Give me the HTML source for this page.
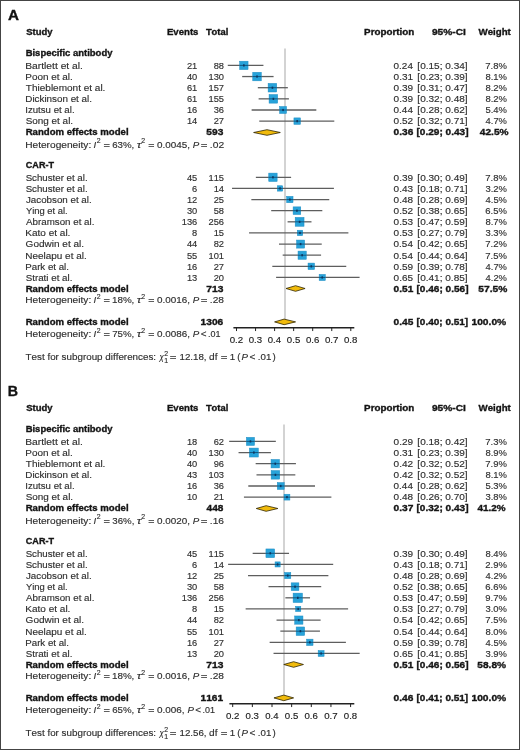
<!DOCTYPE html>
<html><head><meta charset="utf-8"><style>
html,body{margin:0;padding:0;background:#fff;}
body{width:520px;height:750px;overflow:hidden;}
svg{display:block;font-family:"Liberation Sans", sans-serif;font-size:9.7px;font-kerning:none;}
</style></head><body>
<svg width="520" height="750" viewBox="0 0 520 750">
<defs><filter id="soft" x="0" y="0" width="1" height="1" color-interpolation-filters="sRGB"><feGaussianBlur stdDeviation="0.25"/></filter></defs>
<rect x="0" y="0" width="520" height="750" fill="#fff"/>
<g filter="url(#soft)">
<rect x="0" y="0" width="520" height="750" fill="#fff"/>
<text x="7.92" y="19.60" textLength="10.98" lengthAdjust="spacingAndGlyphs" style="font-weight:bold;font-size:14.2px;" fill="#111" stroke="#111" stroke-width="0.35">A</text>
<text x="26.23" y="35.20" textLength="26.32" lengthAdjust="spacingAndGlyphs" style="font-weight:bold;font-size:9.6px;" fill="#141414" stroke="#141414" stroke-width="0.35">Study</text>
<text x="166.96" y="35.20" style="font-weight:bold;font-size:9.6px;" fill="#141414" stroke="#141414" stroke-width="0.35">Events</text>
<text x="205.89" y="35.20" textLength="22.37" lengthAdjust="spacingAndGlyphs" style="font-weight:bold;font-size:9.6px;" fill="#141414" stroke="#141414" stroke-width="0.35">Total</text>
<text x="364.14" y="35.20" textLength="50.17" lengthAdjust="spacingAndGlyphs" style="font-weight:bold;font-size:9.6px;" fill="#141414" stroke="#141414" stroke-width="0.35">Proportion</text>
<text x="431.95" y="35.20" textLength="33.93" lengthAdjust="spacingAndGlyphs" style="font-weight:bold;font-size:9.6px;" fill="#141414" stroke="#141414" stroke-width="0.35">95%-CI</text>
<text x="478.49" y="35.20" textLength="32.33" lengthAdjust="spacingAndGlyphs" style="font-weight:bold;font-size:9.6px;" fill="#141414" stroke="#141414" stroke-width="0.35">Weight</text>
<line x1="285.00" y1="48.60" x2="285.00" y2="321.00" stroke="#d3d3d3" stroke-width="2.0" />
<text x="25.67" y="55.70" textLength="86.78" lengthAdjust="spacingAndGlyphs" style="font-weight:bold;font-size:9.6px;" fill="#141414" stroke="#141414" stroke-width="0.35">Bispecific antibody</text>
<text x="25.26" y="68.80" textLength="57.68" lengthAdjust="spacingAndGlyphs" fill="#2f2f2f" stroke="#2f2f2f" stroke-width="0.15">Bartlett et al.</text>
<text x="186.94" y="68.80" textLength="10.36" lengthAdjust="spacingAndGlyphs" fill="#2f2f2f" stroke="#2f2f2f" stroke-width="0.15">21</text>
<text x="213.64" y="68.80" textLength="10.36" lengthAdjust="spacingAndGlyphs" fill="#2f2f2f" stroke="#2f2f2f" stroke-width="0.15">88</text>
<text x="393.61" y="68.80" textLength="19.28" lengthAdjust="spacingAndGlyphs" fill="#2f2f2f" stroke="#2f2f2f" stroke-width="0.15">0.24</text>
<text x="417.38" y="68.80" textLength="50.23" lengthAdjust="spacingAndGlyphs" fill="#2f2f2f" stroke="#2f2f2f" stroke-width="0.15">[0.15; 0.34]</text>
<text x="485.31" y="68.80" textLength="21.62" lengthAdjust="spacingAndGlyphs" fill="#2f2f2f" stroke="#2f2f2f" stroke-width="0.15">7.8%</text>
<line x1="227.77" y1="65.40" x2="263.43" y2="65.40" stroke="#5e5e5e" stroke-width="1.3" />
<rect x="239.67" y="61.21" width="8.38" height="8.38" fill="#27a3da" stroke="#1e8cc2" stroke-width="0.5"/>
<line x1="239.67" y1="65.40" x2="248.05" y2="65.40" stroke="#0f4468" stroke-width="1.0" stroke-opacity="0.8"/>
<rect x="243.06" y="64.30" width="1.6" height="2.2" fill="#0d3560"/>
<text x="25.28" y="79.78" textLength="47.52" lengthAdjust="spacingAndGlyphs" fill="#2f2f2f" stroke="#2f2f2f" stroke-width="0.15">Poon et al.</text>
<text x="186.94" y="79.78" textLength="10.36" lengthAdjust="spacingAndGlyphs" fill="#2f2f2f" stroke="#2f2f2f" stroke-width="0.15">40</text>
<text x="208.46" y="79.78" textLength="15.54" lengthAdjust="spacingAndGlyphs" fill="#2f2f2f" stroke="#2f2f2f" stroke-width="0.15">130</text>
<text x="393.61" y="79.78" textLength="19.48" lengthAdjust="spacingAndGlyphs" fill="#2f2f2f" stroke="#2f2f2f" stroke-width="0.15">0.31</text>
<text x="417.38" y="79.78" textLength="50.23" lengthAdjust="spacingAndGlyphs" fill="#2f2f2f" stroke="#2f2f2f" stroke-width="0.15">[0.23; 0.39]</text>
<text x="485.39" y="79.78" textLength="21.55" lengthAdjust="spacingAndGlyphs" fill="#2f2f2f" stroke="#2f2f2f" stroke-width="0.15">8.1%</text>
<line x1="242.17" y1="76.55" x2="273.58" y2="76.55" stroke="#5e5e5e" stroke-width="1.3" />
<rect x="252.75" y="72.28" width="8.54" height="8.54" fill="#27a3da" stroke="#1e8cc2" stroke-width="0.5"/>
<line x1="252.75" y1="76.55" x2="261.28" y2="76.55" stroke="#0f4468" stroke-width="1.0" stroke-opacity="0.8"/>
<rect x="256.22" y="75.45" width="1.6" height="2.2" fill="#0d3560"/>
<text x="25.88" y="90.76" textLength="79.54" lengthAdjust="spacingAndGlyphs" fill="#2f2f2f" stroke="#2f2f2f" stroke-width="0.15">Thieblemont et al.</text>
<text x="186.94" y="90.76" textLength="10.36" lengthAdjust="spacingAndGlyphs" fill="#2f2f2f" stroke="#2f2f2f" stroke-width="0.15">61</text>
<text x="208.46" y="90.76" textLength="15.54" lengthAdjust="spacingAndGlyphs" fill="#2f2f2f" stroke="#2f2f2f" stroke-width="0.15">157</text>
<text x="393.61" y="90.76" textLength="19.46" lengthAdjust="spacingAndGlyphs" fill="#2f2f2f" stroke="#2f2f2f" stroke-width="0.15">0.39</text>
<text x="417.38" y="90.76" textLength="50.23" lengthAdjust="spacingAndGlyphs" fill="#2f2f2f" stroke="#2f2f2f" stroke-width="0.15">[0.31; 0.47]</text>
<text x="485.39" y="90.76" textLength="21.55" lengthAdjust="spacingAndGlyphs" fill="#2f2f2f" stroke="#2f2f2f" stroke-width="0.15">8.2%</text>
<line x1="257.81" y1="87.70" x2="287.84" y2="87.70" stroke="#5e5e5e" stroke-width="1.3" />
<rect x="268.12" y="83.40" width="8.59" height="8.59" fill="#27a3da" stroke="#1e8cc2" stroke-width="0.5"/>
<line x1="268.12" y1="87.70" x2="276.71" y2="87.70" stroke="#0f4468" stroke-width="1.0" stroke-opacity="0.8"/>
<rect x="271.62" y="86.60" width="1.6" height="2.2" fill="#0d3560"/>
<text x="25.29" y="101.74" textLength="66.71" lengthAdjust="spacingAndGlyphs" fill="#2f2f2f" stroke="#2f2f2f" stroke-width="0.15">Dickinson et al.</text>
<text x="186.94" y="101.74" textLength="10.36" lengthAdjust="spacingAndGlyphs" fill="#2f2f2f" stroke="#2f2f2f" stroke-width="0.15">61</text>
<text x="208.46" y="101.74" textLength="15.54" lengthAdjust="spacingAndGlyphs" fill="#2f2f2f" stroke="#2f2f2f" stroke-width="0.15">155</text>
<text x="393.61" y="101.74" textLength="19.46" lengthAdjust="spacingAndGlyphs" fill="#2f2f2f" stroke="#2f2f2f" stroke-width="0.15">0.39</text>
<text x="417.38" y="101.74" textLength="50.23" lengthAdjust="spacingAndGlyphs" fill="#2f2f2f" stroke="#2f2f2f" stroke-width="0.15">[0.32; 0.48]</text>
<text x="485.39" y="101.74" textLength="21.55" lengthAdjust="spacingAndGlyphs" fill="#2f2f2f" stroke="#2f2f2f" stroke-width="0.15">8.2%</text>
<line x1="258.62" y1="98.85" x2="288.91" y2="98.85" stroke="#5e5e5e" stroke-width="1.3" />
<rect x="269.08" y="94.55" width="8.59" height="8.59" fill="#27a3da" stroke="#1e8cc2" stroke-width="0.5"/>
<line x1="269.08" y1="98.85" x2="277.67" y2="98.85" stroke="#0f4468" stroke-width="1.0" stroke-opacity="0.8"/>
<rect x="272.57" y="97.75" width="1.6" height="2.2" fill="#0d3560"/>
<text x="25.21" y="112.72" textLength="49.37" lengthAdjust="spacingAndGlyphs" fill="#2f2f2f" stroke="#2f2f2f" stroke-width="0.15">Izutsu et al.</text>
<text x="186.94" y="112.72" textLength="10.36" lengthAdjust="spacingAndGlyphs" fill="#2f2f2f" stroke="#2f2f2f" stroke-width="0.15">16</text>
<text x="213.64" y="112.72" textLength="10.36" lengthAdjust="spacingAndGlyphs" fill="#2f2f2f" stroke="#2f2f2f" stroke-width="0.15">36</text>
<text x="393.61" y="112.72" textLength="19.28" lengthAdjust="spacingAndGlyphs" fill="#2f2f2f" stroke="#2f2f2f" stroke-width="0.15">0.44</text>
<text x="417.38" y="112.72" textLength="50.23" lengthAdjust="spacingAndGlyphs" fill="#2f2f2f" stroke="#2f2f2f" stroke-width="0.15">[0.28; 0.62]</text>
<text x="485.42" y="112.72" textLength="21.51" lengthAdjust="spacingAndGlyphs" fill="#2f2f2f" stroke="#2f2f2f" stroke-width="0.15">5.4%</text>
<line x1="251.62" y1="110.00" x2="316.32" y2="110.00" stroke="#5e5e5e" stroke-width="1.3" />
<rect x="279.58" y="106.51" width="6.97" height="6.97" fill="#27a3da" stroke="#1e8cc2" stroke-width="0.5"/>
<line x1="279.58" y1="110.00" x2="286.55" y2="110.00" stroke="#0f4468" stroke-width="1.0" stroke-opacity="0.8"/>
<rect x="282.27" y="108.90" width="1.6" height="2.2" fill="#0d3560"/>
<text x="25.65" y="123.70" textLength="47.46" lengthAdjust="spacingAndGlyphs" fill="#2f2f2f" stroke="#2f2f2f" stroke-width="0.15">Song et al.</text>
<text x="186.94" y="123.70" textLength="10.36" lengthAdjust="spacingAndGlyphs" fill="#2f2f2f" stroke="#2f2f2f" stroke-width="0.15">14</text>
<text x="213.64" y="123.70" textLength="10.36" lengthAdjust="spacingAndGlyphs" fill="#2f2f2f" stroke="#2f2f2f" stroke-width="0.15">27</text>
<text x="393.61" y="123.70" textLength="19.50" lengthAdjust="spacingAndGlyphs" fill="#2f2f2f" stroke="#2f2f2f" stroke-width="0.15">0.52</text>
<text x="417.38" y="123.70" textLength="50.23" lengthAdjust="spacingAndGlyphs" fill="#2f2f2f" stroke="#2f2f2f" stroke-width="0.15">[0.32; 0.71]</text>
<text x="485.59" y="123.70" textLength="21.35" lengthAdjust="spacingAndGlyphs" fill="#2f2f2f" stroke="#2f2f2f" stroke-width="0.15">4.7%</text>
<line x1="259.26" y1="121.15" x2="334.29" y2="121.15" stroke="#5e5e5e" stroke-width="1.3" />
<rect x="293.93" y="117.90" width="6.50" height="6.50" fill="#27a3da" stroke="#1e8cc2" stroke-width="0.5"/>
<line x1="293.93" y1="121.15" x2="300.43" y2="121.15" stroke="#0f4468" stroke-width="1.0" stroke-opacity="0.8"/>
<rect x="296.38" y="120.05" width="1.6" height="2.2" fill="#0d3560"/>
<text x="25.66" y="135.30" style="font-weight:bold;font-size:9.6px;" fill="#141414" stroke="#141414" stroke-width="0.35">Random effects model</text>
<text x="206.39" y="135.30" textLength="16.98" lengthAdjust="spacingAndGlyphs" style="font-weight:bold;font-size:9.6px;" fill="#141414" stroke="#141414" stroke-width="0.35">593</text>
<text x="393.60" y="135.30" textLength="19.77" lengthAdjust="spacingAndGlyphs" style="font-weight:bold;font-size:9.6px;" fill="#141414" stroke="#141414" stroke-width="0.35">0.36</text>
<text x="416.53" y="135.30" textLength="52.03" lengthAdjust="spacingAndGlyphs" style="font-weight:bold;font-size:9.6px;" fill="#141414" stroke="#141414" stroke-width="0.35">[0.29; 0.43]</text>
<text x="479.85" y="135.30" textLength="28.72" lengthAdjust="spacingAndGlyphs" style="font-weight:bold;font-size:9.6px;" fill="#141414" stroke="#141414" stroke-width="0.35">42.5%</text>
<polygon points="253.64,132.50 266.98,129.70 280.31,132.50 266.98,135.30" fill="#f1bb0c" stroke="#2e2400" stroke-width="0.8"/>
<text x="25.17" y="147.60" textLength="66.06" lengthAdjust="spacingAndGlyphs" fill="#2f2f2f" stroke="#2f2f2f" stroke-width="0.15">Heterogeneity:</text>
<text x="93.62" y="147.60" style="font-style:italic;" fill="#2f2f2f" stroke="#2f2f2f" stroke-width="0.15">I</text>
<text x="96.75" y="143.30" style="font-size:6.9px;" fill="#2f2f2f" stroke="#2f2f2f" stroke-width="0.15">2</text>
<text x="103.56" y="147.60" textLength="6.49" lengthAdjust="spacingAndGlyphs" fill="#2f2f2f" stroke="#2f2f2f" stroke-width="0.15">=</text>
<text x="112.21" y="147.60" fill="#2f2f2f" stroke="#2f2f2f" stroke-width="0.15">63%,</text>
<text x="136.75" y="147.60" textLength="4.62" lengthAdjust="spacingAndGlyphs" style="font-style:italic;" fill="#2f2f2f" stroke="#2f2f2f" stroke-width="0.15">τ</text>
<text x="141.15" y="143.30" style="font-size:6.9px;" fill="#2f2f2f" stroke="#2f2f2f" stroke-width="0.15">2</text>
<text x="148.28" y="147.60" textLength="6.25" lengthAdjust="spacingAndGlyphs" fill="#2f2f2f" stroke="#2f2f2f" stroke-width="0.15">=</text>
<text x="157.01" y="147.60" textLength="32.97" lengthAdjust="spacingAndGlyphs" fill="#2f2f2f" stroke="#2f2f2f" stroke-width="0.15">0.0045,</text>
<text x="192.80" y="147.60" style="font-style:italic;" fill="#2f2f2f" stroke="#2f2f2f" stroke-width="0.15">P</text>
<text x="200.84" y="147.60" textLength="6.73" lengthAdjust="spacingAndGlyphs" fill="#2f2f2f" stroke="#2f2f2f" stroke-width="0.15">=</text>
<text x="209.86" y="147.60" textLength="14.25" lengthAdjust="spacingAndGlyphs" fill="#2f2f2f" stroke="#2f2f2f" stroke-width="0.15">.02</text>
<text x="25.83" y="167.70" textLength="28.17" lengthAdjust="spacingAndGlyphs" style="font-weight:bold;font-size:9.6px;" fill="#141414" stroke="#141414" stroke-width="0.35">CAR-T</text>
<text x="25.66" y="180.70" fill="#2f2f2f" stroke="#2f2f2f" stroke-width="0.15">Schuster et al.</text>
<text x="186.94" y="180.70" textLength="10.36" lengthAdjust="spacingAndGlyphs" fill="#2f2f2f" stroke="#2f2f2f" stroke-width="0.15">45</text>
<text x="208.46" y="180.70" textLength="15.54" lengthAdjust="spacingAndGlyphs" fill="#2f2f2f" stroke="#2f2f2f" stroke-width="0.15">115</text>
<text x="393.61" y="180.70" textLength="19.46" lengthAdjust="spacingAndGlyphs" fill="#2f2f2f" stroke="#2f2f2f" stroke-width="0.15">0.39</text>
<text x="417.38" y="180.70" textLength="50.23" lengthAdjust="spacingAndGlyphs" fill="#2f2f2f" stroke="#2f2f2f" stroke-width="0.15">[0.30; 0.49]</text>
<text x="485.31" y="180.70" textLength="21.62" lengthAdjust="spacingAndGlyphs" fill="#2f2f2f" stroke="#2f2f2f" stroke-width="0.15">7.8%</text>
<line x1="255.86" y1="177.30" x2="291.12" y2="177.30" stroke="#5e5e5e" stroke-width="1.3" />
<rect x="268.75" y="173.11" width="8.38" height="8.38" fill="#27a3da" stroke="#1e8cc2" stroke-width="0.5"/>
<line x1="268.75" y1="177.30" x2="277.13" y2="177.30" stroke="#0f4468" stroke-width="1.0" stroke-opacity="0.8"/>
<rect x="272.14" y="176.20" width="1.6" height="2.2" fill="#0d3560"/>
<text x="25.66" y="191.82" fill="#2f2f2f" stroke="#2f2f2f" stroke-width="0.15">Schuster et al.</text>
<text x="192.12" y="191.82" textLength="5.18" lengthAdjust="spacingAndGlyphs" fill="#2f2f2f" stroke="#2f2f2f" stroke-width="0.15">6</text>
<text x="213.64" y="191.82" textLength="10.36" lengthAdjust="spacingAndGlyphs" fill="#2f2f2f" stroke="#2f2f2f" stroke-width="0.15">14</text>
<text x="393.61" y="191.82" textLength="19.43" lengthAdjust="spacingAndGlyphs" fill="#2f2f2f" stroke="#2f2f2f" stroke-width="0.15">0.43</text>
<text x="417.38" y="191.82" textLength="50.23" lengthAdjust="spacingAndGlyphs" fill="#2f2f2f" stroke="#2f2f2f" stroke-width="0.15">[0.18; 0.71]</text>
<text x="485.44" y="191.82" textLength="21.50" lengthAdjust="spacingAndGlyphs" fill="#2f2f2f" stroke="#2f2f2f" stroke-width="0.15">3.2%</text>
<line x1="232.04" y1="188.43" x2="333.92" y2="188.43" stroke="#5e5e5e" stroke-width="1.3" />
<rect x="277.36" y="185.75" width="5.37" height="5.37" fill="#27a3da" stroke="#1e8cc2" stroke-width="0.5"/>
<line x1="277.36" y1="188.43" x2="282.73" y2="188.43" stroke="#0f4468" stroke-width="1.0" stroke-opacity="0.8"/>
<rect x="279.24" y="187.33" width="1.6" height="2.2" fill="#0d3560"/>
<text x="25.95" y="202.94" textLength="65.75" lengthAdjust="spacingAndGlyphs" fill="#2f2f2f" stroke="#2f2f2f" stroke-width="0.15">Jacobson et al.</text>
<text x="186.94" y="202.94" textLength="10.36" lengthAdjust="spacingAndGlyphs" fill="#2f2f2f" stroke="#2f2f2f" stroke-width="0.15">12</text>
<text x="213.64" y="202.94" textLength="10.36" lengthAdjust="spacingAndGlyphs" fill="#2f2f2f" stroke="#2f2f2f" stroke-width="0.15">25</text>
<text x="393.61" y="202.94" textLength="19.42" lengthAdjust="spacingAndGlyphs" fill="#2f2f2f" stroke="#2f2f2f" stroke-width="0.15">0.48</text>
<text x="417.38" y="202.94" textLength="50.23" lengthAdjust="spacingAndGlyphs" fill="#2f2f2f" stroke="#2f2f2f" stroke-width="0.15">[0.28; 0.69]</text>
<text x="485.59" y="202.94" textLength="21.35" lengthAdjust="spacingAndGlyphs" fill="#2f2f2f" stroke="#2f2f2f" stroke-width="0.15">4.5%</text>
<line x1="251.35" y1="199.56" x2="329.26" y2="199.56" stroke="#5e5e5e" stroke-width="1.3" />
<rect x="286.66" y="196.38" width="6.36" height="6.36" fill="#27a3da" stroke="#1e8cc2" stroke-width="0.5"/>
<line x1="286.66" y1="199.56" x2="293.02" y2="199.56" stroke="#0f4468" stroke-width="1.0" stroke-opacity="0.8"/>
<rect x="289.04" y="198.46" width="1.6" height="2.2" fill="#0d3560"/>
<text x="25.89" y="214.06" textLength="41.87" lengthAdjust="spacingAndGlyphs" fill="#2f2f2f" stroke="#2f2f2f" stroke-width="0.15">Ying et al.</text>
<text x="186.94" y="214.06" textLength="10.36" lengthAdjust="spacingAndGlyphs" fill="#2f2f2f" stroke="#2f2f2f" stroke-width="0.15">30</text>
<text x="213.64" y="214.06" textLength="10.36" lengthAdjust="spacingAndGlyphs" fill="#2f2f2f" stroke="#2f2f2f" stroke-width="0.15">58</text>
<text x="393.61" y="214.06" textLength="19.50" lengthAdjust="spacingAndGlyphs" fill="#2f2f2f" stroke="#2f2f2f" stroke-width="0.15">0.52</text>
<text x="417.38" y="214.06" textLength="50.23" lengthAdjust="spacingAndGlyphs" fill="#2f2f2f" stroke="#2f2f2f" stroke-width="0.15">[0.38; 0.65]</text>
<text x="485.32" y="214.06" textLength="21.62" lengthAdjust="spacingAndGlyphs" fill="#2f2f2f" stroke="#2f2f2f" stroke-width="0.15">6.5%</text>
<line x1="271.20" y1="210.69" x2="322.32" y2="210.69" stroke="#5e5e5e" stroke-width="1.3" />
<rect x="293.11" y="206.87" width="7.65" height="7.65" fill="#27a3da" stroke="#1e8cc2" stroke-width="0.5"/>
<line x1="293.11" y1="210.69" x2="300.76" y2="210.69" stroke="#0f4468" stroke-width="1.0" stroke-opacity="0.8"/>
<rect x="296.13" y="209.59" width="1.6" height="2.2" fill="#0d3560"/>
<text x="26.08" y="225.18" textLength="68.31" lengthAdjust="spacingAndGlyphs" fill="#2f2f2f" stroke="#2f2f2f" stroke-width="0.15">Abramson et al.</text>
<text x="181.76" y="225.18" textLength="15.54" lengthAdjust="spacingAndGlyphs" fill="#2f2f2f" stroke="#2f2f2f" stroke-width="0.15">136</text>
<text x="208.46" y="225.18" textLength="15.54" lengthAdjust="spacingAndGlyphs" fill="#2f2f2f" stroke="#2f2f2f" stroke-width="0.15">256</text>
<text x="393.61" y="225.18" textLength="19.43" lengthAdjust="spacingAndGlyphs" fill="#2f2f2f" stroke="#2f2f2f" stroke-width="0.15">0.53</text>
<text x="417.38" y="225.18" textLength="50.23" lengthAdjust="spacingAndGlyphs" fill="#2f2f2f" stroke="#2f2f2f" stroke-width="0.15">[0.47; 0.59]</text>
<text x="485.39" y="225.18" textLength="21.55" lengthAdjust="spacingAndGlyphs" fill="#2f2f2f" stroke="#2f2f2f" stroke-width="0.15">8.7%</text>
<line x1="287.58" y1="221.82" x2="311.49" y2="221.82" stroke="#5e5e5e" stroke-width="1.3" />
<rect x="295.18" y="217.40" width="8.85" height="8.85" fill="#27a3da" stroke="#1e8cc2" stroke-width="0.5"/>
<line x1="295.18" y1="221.82" x2="304.03" y2="221.82" stroke="#0f4468" stroke-width="1.0" stroke-opacity="0.8"/>
<rect x="298.80" y="220.72" width="1.6" height="2.2" fill="#0d3560"/>
<text x="25.28" y="236.30" textLength="45.14" lengthAdjust="spacingAndGlyphs" fill="#2f2f2f" stroke="#2f2f2f" stroke-width="0.15">Kato et al.</text>
<text x="192.12" y="236.30" textLength="5.18" lengthAdjust="spacingAndGlyphs" fill="#2f2f2f" stroke="#2f2f2f" stroke-width="0.15">8</text>
<text x="213.64" y="236.30" textLength="10.36" lengthAdjust="spacingAndGlyphs" fill="#2f2f2f" stroke="#2f2f2f" stroke-width="0.15">15</text>
<text x="393.61" y="236.30" textLength="19.43" lengthAdjust="spacingAndGlyphs" fill="#2f2f2f" stroke="#2f2f2f" stroke-width="0.15">0.53</text>
<text x="417.38" y="236.30" textLength="50.23" lengthAdjust="spacingAndGlyphs" fill="#2f2f2f" stroke="#2f2f2f" stroke-width="0.15">[0.27; 0.79]</text>
<text x="485.44" y="236.30" textLength="21.50" lengthAdjust="spacingAndGlyphs" fill="#2f2f2f" stroke="#2f2f2f" stroke-width="0.15">3.3%</text>
<line x1="249.05" y1="232.95" x2="348.39" y2="232.95" stroke="#5e5e5e" stroke-width="1.3" />
<rect x="297.28" y="230.23" width="5.45" height="5.45" fill="#27a3da" stroke="#1e8cc2" stroke-width="0.5"/>
<line x1="297.28" y1="232.95" x2="302.72" y2="232.95" stroke="#0f4468" stroke-width="1.0" stroke-opacity="0.8"/>
<rect x="299.20" y="231.85" width="1.6" height="2.2" fill="#0d3560"/>
<text x="25.60" y="247.42" textLength="58.42" lengthAdjust="spacingAndGlyphs" fill="#2f2f2f" stroke="#2f2f2f" stroke-width="0.15">Godwin et al.</text>
<text x="186.94" y="247.42" textLength="10.36" lengthAdjust="spacingAndGlyphs" fill="#2f2f2f" stroke="#2f2f2f" stroke-width="0.15">44</text>
<text x="213.64" y="247.42" textLength="10.36" lengthAdjust="spacingAndGlyphs" fill="#2f2f2f" stroke="#2f2f2f" stroke-width="0.15">82</text>
<text x="393.61" y="247.42" textLength="19.28" lengthAdjust="spacingAndGlyphs" fill="#2f2f2f" stroke="#2f2f2f" stroke-width="0.15">0.54</text>
<text x="417.38" y="247.42" textLength="50.23" lengthAdjust="spacingAndGlyphs" fill="#2f2f2f" stroke="#2f2f2f" stroke-width="0.15">[0.42; 0.65]</text>
<text x="485.31" y="247.42" textLength="21.62" lengthAdjust="spacingAndGlyphs" fill="#2f2f2f" stroke="#2f2f2f" stroke-width="0.15">7.2%</text>
<line x1="278.98" y1="244.08" x2="321.74" y2="244.08" stroke="#5e5e5e" stroke-width="1.3" />
<rect x="296.59" y="240.06" width="8.05" height="8.05" fill="#27a3da" stroke="#1e8cc2" stroke-width="0.5"/>
<line x1="296.59" y1="244.08" x2="304.64" y2="244.08" stroke="#0f4468" stroke-width="1.0" stroke-opacity="0.8"/>
<rect x="299.82" y="242.98" width="1.6" height="2.2" fill="#0d3560"/>
<text x="25.28" y="258.54" textLength="61.43" lengthAdjust="spacingAndGlyphs" fill="#2f2f2f" stroke="#2f2f2f" stroke-width="0.15">Neelapu et al.</text>
<text x="186.94" y="258.54" textLength="10.36" lengthAdjust="spacingAndGlyphs" fill="#2f2f2f" stroke="#2f2f2f" stroke-width="0.15">55</text>
<text x="208.46" y="258.54" textLength="15.54" lengthAdjust="spacingAndGlyphs" fill="#2f2f2f" stroke="#2f2f2f" stroke-width="0.15">101</text>
<text x="393.61" y="258.54" textLength="19.28" lengthAdjust="spacingAndGlyphs" fill="#2f2f2f" stroke="#2f2f2f" stroke-width="0.15">0.54</text>
<text x="417.38" y="258.54" textLength="50.23" lengthAdjust="spacingAndGlyphs" fill="#2f2f2f" stroke="#2f2f2f" stroke-width="0.15">[0.44; 0.64]</text>
<text x="485.31" y="258.54" textLength="21.62" lengthAdjust="spacingAndGlyphs" fill="#2f2f2f" stroke="#2f2f2f" stroke-width="0.15">7.5%</text>
<line x1="282.68" y1="255.21" x2="321.08" y2="255.21" stroke="#5e5e5e" stroke-width="1.3" />
<rect x="298.03" y="251.10" width="8.22" height="8.22" fill="#27a3da" stroke="#1e8cc2" stroke-width="0.5"/>
<line x1="298.03" y1="255.21" x2="306.25" y2="255.21" stroke="#0f4468" stroke-width="1.0" stroke-opacity="0.8"/>
<rect x="301.34" y="254.11" width="1.6" height="2.2" fill="#0d3560"/>
<text x="25.31" y="269.66" fill="#2f2f2f" stroke="#2f2f2f" stroke-width="0.15">Park et al.</text>
<text x="186.94" y="269.66" textLength="10.36" lengthAdjust="spacingAndGlyphs" fill="#2f2f2f" stroke="#2f2f2f" stroke-width="0.15">16</text>
<text x="213.64" y="269.66" textLength="10.36" lengthAdjust="spacingAndGlyphs" fill="#2f2f2f" stroke="#2f2f2f" stroke-width="0.15">27</text>
<text x="393.61" y="269.66" textLength="19.46" lengthAdjust="spacingAndGlyphs" fill="#2f2f2f" stroke="#2f2f2f" stroke-width="0.15">0.59</text>
<text x="417.38" y="269.66" textLength="50.23" lengthAdjust="spacingAndGlyphs" fill="#2f2f2f" stroke="#2f2f2f" stroke-width="0.15">[0.39; 0.78]</text>
<text x="485.59" y="269.66" textLength="21.35" lengthAdjust="spacingAndGlyphs" fill="#2f2f2f" stroke="#2f2f2f" stroke-width="0.15">4.7%</text>
<line x1="272.31" y1="266.34" x2="346.25" y2="266.34" stroke="#5e5e5e" stroke-width="1.3" />
<rect x="308.04" y="263.09" width="6.50" height="6.50" fill="#27a3da" stroke="#1e8cc2" stroke-width="0.5"/>
<line x1="308.04" y1="266.34" x2="314.54" y2="266.34" stroke="#0f4468" stroke-width="1.0" stroke-opacity="0.8"/>
<rect x="310.49" y="265.24" width="1.6" height="2.2" fill="#0d3560"/>
<text x="25.66" y="280.78" textLength="46.74" lengthAdjust="spacingAndGlyphs" fill="#2f2f2f" stroke="#2f2f2f" stroke-width="0.15">Strati et al.</text>
<text x="186.94" y="280.78" textLength="10.36" lengthAdjust="spacingAndGlyphs" fill="#2f2f2f" stroke="#2f2f2f" stroke-width="0.15">13</text>
<text x="213.64" y="280.78" textLength="10.36" lengthAdjust="spacingAndGlyphs" fill="#2f2f2f" stroke="#2f2f2f" stroke-width="0.15">20</text>
<text x="393.61" y="280.78" textLength="19.41" lengthAdjust="spacingAndGlyphs" fill="#2f2f2f" stroke="#2f2f2f" stroke-width="0.15">0.65</text>
<text x="417.38" y="280.78" textLength="50.23" lengthAdjust="spacingAndGlyphs" fill="#2f2f2f" stroke="#2f2f2f" stroke-width="0.15">[0.41; 0.85]</text>
<text x="485.59" y="280.78" textLength="21.35" lengthAdjust="spacingAndGlyphs" fill="#2f2f2f" stroke="#2f2f2f" stroke-width="0.15">4.2%</text>
<line x1="276.09" y1="277.47" x2="359.58" y2="277.47" stroke="#5e5e5e" stroke-width="1.3" />
<rect x="319.15" y="274.40" width="6.15" height="6.15" fill="#27a3da" stroke="#1e8cc2" stroke-width="0.5"/>
<line x1="319.15" y1="277.47" x2="325.30" y2="277.47" stroke="#0f4468" stroke-width="1.0" stroke-opacity="0.8"/>
<rect x="321.43" y="276.37" width="1.6" height="2.2" fill="#0d3560"/>
<text x="25.66" y="291.50" style="font-weight:bold;font-size:9.6px;" fill="#141414" stroke="#141414" stroke-width="0.35">Random effects model</text>
<text x="206.26" y="291.50" textLength="17.11" lengthAdjust="spacingAndGlyphs" style="font-weight:bold;font-size:9.6px;" fill="#141414" stroke="#141414" stroke-width="0.35">713</text>
<text x="393.60" y="291.50" textLength="19.68" lengthAdjust="spacingAndGlyphs" style="font-weight:bold;font-size:9.6px;" fill="#141414" stroke="#141414" stroke-width="0.35">0.51</text>
<text x="416.53" y="291.50" textLength="52.03" lengthAdjust="spacingAndGlyphs" style="font-weight:bold;font-size:9.6px;" fill="#141414" stroke="#141414" stroke-width="0.35">[0.46; 0.56]</text>
<text x="478.29" y="291.50" textLength="28.98" lengthAdjust="spacingAndGlyphs" style="font-weight:bold;font-size:9.6px;" fill="#141414" stroke="#141414" stroke-width="0.35">57.5%</text>
<polygon points="286.03,288.50 295.56,285.70 305.08,288.50 295.56,291.30" fill="#f1bb0c" stroke="#2e2400" stroke-width="0.8"/>
<text x="25.17" y="303.30" textLength="66.06" lengthAdjust="spacingAndGlyphs" fill="#2f2f2f" stroke="#2f2f2f" stroke-width="0.15">Heterogeneity:</text>
<text x="93.62" y="303.30" style="font-style:italic;" fill="#2f2f2f" stroke="#2f2f2f" stroke-width="0.15">I</text>
<text x="96.75" y="299.00" style="font-size:6.9px;" fill="#2f2f2f" stroke="#2f2f2f" stroke-width="0.15">2</text>
<text x="103.56" y="303.30" textLength="6.49" lengthAdjust="spacingAndGlyphs" fill="#2f2f2f" stroke="#2f2f2f" stroke-width="0.15">=</text>
<text x="111.95" y="303.30" textLength="22.43" lengthAdjust="spacingAndGlyphs" fill="#2f2f2f" stroke="#2f2f2f" stroke-width="0.15">18%,</text>
<text x="136.75" y="303.30" textLength="4.62" lengthAdjust="spacingAndGlyphs" style="font-style:italic;" fill="#2f2f2f" stroke="#2f2f2f" stroke-width="0.15">τ</text>
<text x="141.15" y="299.00" style="font-size:6.9px;" fill="#2f2f2f" stroke="#2f2f2f" stroke-width="0.15">2</text>
<text x="148.28" y="303.30" textLength="6.25" lengthAdjust="spacingAndGlyphs" fill="#2f2f2f" stroke="#2f2f2f" stroke-width="0.15">=</text>
<text x="157.01" y="303.30" textLength="32.97" lengthAdjust="spacingAndGlyphs" fill="#2f2f2f" stroke="#2f2f2f" stroke-width="0.15">0.0016,</text>
<text x="192.80" y="303.30" style="font-style:italic;" fill="#2f2f2f" stroke="#2f2f2f" stroke-width="0.15">P</text>
<text x="200.84" y="303.30" textLength="6.73" lengthAdjust="spacingAndGlyphs" fill="#2f2f2f" stroke="#2f2f2f" stroke-width="0.15">=</text>
<text x="209.87" y="303.30" textLength="14.17" lengthAdjust="spacingAndGlyphs" fill="#2f2f2f" stroke="#2f2f2f" stroke-width="0.15">.28</text>
<text x="25.66" y="324.80" style="font-weight:bold;font-size:9.6px;" fill="#141414" stroke="#141414" stroke-width="0.35">Random effects model</text>
<text x="200.56" y="324.80" textLength="22.71" lengthAdjust="spacingAndGlyphs" style="font-weight:bold;font-size:9.6px;" fill="#141414" stroke="#141414" stroke-width="0.35">1306</text>
<text x="393.60" y="324.80" textLength="19.78" lengthAdjust="spacingAndGlyphs" style="font-weight:bold;font-size:9.6px;" fill="#141414" stroke="#141414" stroke-width="0.35">0.45</text>
<text x="416.54" y="324.80" textLength="51.62" lengthAdjust="spacingAndGlyphs" style="font-weight:bold;font-size:9.6px;" fill="#141414" stroke="#141414" stroke-width="0.35">[0.40; 0.51]</text>
<text x="471.45" y="324.80" textLength="34.82" lengthAdjust="spacingAndGlyphs" style="font-weight:bold;font-size:9.6px;" fill="#141414" stroke="#141414" stroke-width="0.35">100.0%</text>
<polygon points="274.60,321.90 284.12,319.10 295.56,321.90 284.12,324.70" fill="#f1bb0c" stroke="#2e2400" stroke-width="0.8"/>
<text x="25.17" y="336.90" textLength="66.06" lengthAdjust="spacingAndGlyphs" fill="#2f2f2f" stroke="#2f2f2f" stroke-width="0.15">Heterogeneity:</text>
<text x="93.62" y="336.90" style="font-style:italic;" fill="#2f2f2f" stroke="#2f2f2f" stroke-width="0.15">I</text>
<text x="96.75" y="332.60" style="font-size:6.9px;" fill="#2f2f2f" stroke="#2f2f2f" stroke-width="0.15">2</text>
<text x="103.56" y="336.90" textLength="6.49" lengthAdjust="spacingAndGlyphs" fill="#2f2f2f" stroke="#2f2f2f" stroke-width="0.15">=</text>
<text x="112.20" y="336.90" fill="#2f2f2f" stroke="#2f2f2f" stroke-width="0.15">75%,</text>
<text x="136.75" y="336.90" textLength="4.62" lengthAdjust="spacingAndGlyphs" style="font-style:italic;" fill="#2f2f2f" stroke="#2f2f2f" stroke-width="0.15">τ</text>
<text x="141.15" y="332.60" style="font-size:6.9px;" fill="#2f2f2f" stroke="#2f2f2f" stroke-width="0.15">2</text>
<text x="148.28" y="336.90" textLength="6.25" lengthAdjust="spacingAndGlyphs" fill="#2f2f2f" stroke="#2f2f2f" stroke-width="0.15">=</text>
<text x="157.01" y="336.90" textLength="32.97" lengthAdjust="spacingAndGlyphs" fill="#2f2f2f" stroke="#2f2f2f" stroke-width="0.15">0.0086,</text>
<text x="192.80" y="336.90" style="font-style:italic;" fill="#2f2f2f" stroke="#2f2f2f" stroke-width="0.15">P</text>
<text x="200.71" y="336.90" textLength="5.77" lengthAdjust="spacingAndGlyphs" fill="#2f2f2f" stroke="#2f2f2f" stroke-width="0.15">&lt;</text>
<text x="207.98" y="336.90" textLength="12.46" lengthAdjust="spacingAndGlyphs" fill="#2f2f2f" stroke="#2f2f2f" stroke-width="0.15">.01</text>
<line x1="233.40" y1="327.75" x2="354.30" y2="327.75" stroke="#222" stroke-width="1.5" />
<line x1="236.50" y1="327.75" x2="236.50" y2="331.05" stroke="#222" stroke-width="1.0" />
<text x="229.72" y="343.20" textLength="13.47" lengthAdjust="spacingAndGlyphs" style="font-size:9.3px;" fill="#222" stroke="#222" stroke-width="0.15">0.2</text>
<line x1="255.55" y1="327.75" x2="255.55" y2="331.05" stroke="#222" stroke-width="1.0" />
<text x="248.77" y="343.20" textLength="13.40" lengthAdjust="spacingAndGlyphs" style="font-size:9.3px;" fill="#222" stroke="#222" stroke-width="0.15">0.3</text>
<line x1="274.60" y1="327.75" x2="274.60" y2="331.05" stroke="#222" stroke-width="1.0" />
<text x="267.83" y="343.20" textLength="13.25" lengthAdjust="spacingAndGlyphs" style="font-size:9.3px;" fill="#222" stroke="#222" stroke-width="0.15">0.4</text>
<line x1="293.65" y1="327.75" x2="293.65" y2="331.05" stroke="#222" stroke-width="1.0" />
<text x="286.87" y="343.20" textLength="13.38" lengthAdjust="spacingAndGlyphs" style="font-size:9.3px;" fill="#222" stroke="#222" stroke-width="0.15">0.5</text>
<line x1="312.70" y1="327.75" x2="312.70" y2="331.05" stroke="#222" stroke-width="1.0" />
<text x="305.92" y="343.20" textLength="13.40" lengthAdjust="spacingAndGlyphs" style="font-size:9.3px;" fill="#222" stroke="#222" stroke-width="0.15">0.6</text>
<line x1="331.75" y1="327.75" x2="331.75" y2="331.05" stroke="#222" stroke-width="1.0" />
<text x="324.97" y="343.20" textLength="13.47" lengthAdjust="spacingAndGlyphs" style="font-size:9.3px;" fill="#222" stroke="#222" stroke-width="0.15">0.7</text>
<line x1="350.80" y1="327.75" x2="350.80" y2="331.05" stroke="#222" stroke-width="1.0" />
<text x="344.02" y="343.20" textLength="13.40" lengthAdjust="spacingAndGlyphs" style="font-size:9.3px;" fill="#222" stroke="#222" stroke-width="0.15">0.8</text>
<text x="25.58" y="360.40" textLength="130.52" lengthAdjust="spacingAndGlyphs" fill="#2f2f2f" stroke="#2f2f2f" stroke-width="0.15">Test for subgroup differences:</text>
<text x="159.56" y="360.40" textLength="4.23" lengthAdjust="spacingAndGlyphs" style="font-style:italic;" fill="#2f2f2f" stroke="#2f2f2f" stroke-width="0.15">χ</text>
<text x="164.15" y="356.30" style="font-size:6.9px;" fill="#2f2f2f" stroke="#2f2f2f" stroke-width="0.15">2</text>
<text x="164.37" y="362.50" style="font-size:6.9px;" fill="#2f2f2f" stroke="#2f2f2f" stroke-width="0.15">1</text>
<text x="169.84" y="360.40" textLength="6.73" lengthAdjust="spacingAndGlyphs" fill="#2f2f2f" stroke="#2f2f2f" stroke-width="0.15">=</text>
<text x="179.46" y="360.40" textLength="27.12" lengthAdjust="spacingAndGlyphs" fill="#2f2f2f" stroke="#2f2f2f" stroke-width="0.15">12.18,</text>
<text x="209.08" y="360.40" textLength="8.41" lengthAdjust="spacingAndGlyphs" fill="#2f2f2f" stroke="#2f2f2f" stroke-width="0.15">df</text>
<text x="220.74" y="360.40" textLength="6.73" lengthAdjust="spacingAndGlyphs" fill="#2f2f2f" stroke="#2f2f2f" stroke-width="0.15">=</text>
<text x="229.86" y="360.40" fill="#2f2f2f" stroke="#2f2f2f" stroke-width="0.15">1</text>
<text x="237.30" y="360.40" fill="#2f2f2f" stroke="#2f2f2f" stroke-width="0.15">(</text>
<text x="241.40" y="360.40" style="font-style:italic;" fill="#2f2f2f" stroke="#2f2f2f" stroke-width="0.15">P</text>
<text x="249.50" y="360.40" textLength="5.89" lengthAdjust="spacingAndGlyphs" fill="#2f2f2f" stroke="#2f2f2f" stroke-width="0.15">&lt;</text>
<text x="257.82" y="360.40" fill="#2f2f2f" stroke="#2f2f2f" stroke-width="0.15">.01</text>
<text x="272.44" y="360.40" fill="#2f2f2f" stroke="#2f2f2f" stroke-width="0.15">)</text>
<text x="7.70" y="395.60" style="font-weight:bold;font-size:14.2px;" fill="#111" stroke="#111" stroke-width="0.35">B</text>
<text x="26.23" y="411.20" textLength="26.32" lengthAdjust="spacingAndGlyphs" style="font-weight:bold;font-size:9.6px;" fill="#141414" stroke="#141414" stroke-width="0.35">Study</text>
<text x="166.96" y="411.20" style="font-weight:bold;font-size:9.6px;" fill="#141414" stroke="#141414" stroke-width="0.35">Events</text>
<text x="205.89" y="411.20" textLength="22.37" lengthAdjust="spacingAndGlyphs" style="font-weight:bold;font-size:9.6px;" fill="#141414" stroke="#141414" stroke-width="0.35">Total</text>
<text x="364.14" y="411.20" textLength="50.17" lengthAdjust="spacingAndGlyphs" style="font-weight:bold;font-size:9.6px;" fill="#141414" stroke="#141414" stroke-width="0.35">Proportion</text>
<text x="431.95" y="411.20" textLength="33.93" lengthAdjust="spacingAndGlyphs" style="font-weight:bold;font-size:9.6px;" fill="#141414" stroke="#141414" stroke-width="0.35">95%-CI</text>
<text x="478.49" y="411.20" textLength="32.33" lengthAdjust="spacingAndGlyphs" style="font-weight:bold;font-size:9.6px;" fill="#141414" stroke="#141414" stroke-width="0.35">Weight</text>
<line x1="284.00" y1="424.60" x2="284.00" y2="697.00" stroke="#d3d3d3" stroke-width="2.0" />
<text x="25.67" y="431.70" textLength="86.78" lengthAdjust="spacingAndGlyphs" style="font-weight:bold;font-size:9.6px;" fill="#141414" stroke="#141414" stroke-width="0.35">Bispecific antibody</text>
<text x="25.26" y="444.80" textLength="57.68" lengthAdjust="spacingAndGlyphs" fill="#2f2f2f" stroke="#2f2f2f" stroke-width="0.15">Bartlett et al.</text>
<text x="186.94" y="444.80" textLength="10.36" lengthAdjust="spacingAndGlyphs" fill="#2f2f2f" stroke="#2f2f2f" stroke-width="0.15">18</text>
<text x="213.64" y="444.80" textLength="10.36" lengthAdjust="spacingAndGlyphs" fill="#2f2f2f" stroke="#2f2f2f" stroke-width="0.15">62</text>
<text x="393.61" y="444.80" textLength="19.46" lengthAdjust="spacingAndGlyphs" fill="#2f2f2f" stroke="#2f2f2f" stroke-width="0.15">0.29</text>
<text x="417.38" y="444.80" textLength="50.23" lengthAdjust="spacingAndGlyphs" fill="#2f2f2f" stroke="#2f2f2f" stroke-width="0.15">[0.18; 0.42]</text>
<text x="485.31" y="444.80" textLength="21.62" lengthAdjust="spacingAndGlyphs" fill="#2f2f2f" stroke="#2f2f2f" stroke-width="0.15">7.3%</text>
<line x1="229.16" y1="441.40" x2="275.83" y2="441.40" stroke="#5e5e5e" stroke-width="1.3" />
<rect x="246.40" y="437.35" width="8.11" height="8.11" fill="#27a3da" stroke="#1e8cc2" stroke-width="0.5"/>
<line x1="246.40" y1="441.40" x2="254.50" y2="441.40" stroke="#0f4468" stroke-width="1.0" stroke-opacity="0.8"/>
<rect x="249.65" y="440.30" width="1.6" height="2.2" fill="#0d3560"/>
<text x="25.28" y="455.78" textLength="47.52" lengthAdjust="spacingAndGlyphs" fill="#2f2f2f" stroke="#2f2f2f" stroke-width="0.15">Poon et al.</text>
<text x="186.94" y="455.78" textLength="10.36" lengthAdjust="spacingAndGlyphs" fill="#2f2f2f" stroke="#2f2f2f" stroke-width="0.15">40</text>
<text x="208.46" y="455.78" textLength="15.54" lengthAdjust="spacingAndGlyphs" fill="#2f2f2f" stroke="#2f2f2f" stroke-width="0.15">130</text>
<text x="393.61" y="455.78" textLength="19.48" lengthAdjust="spacingAndGlyphs" fill="#2f2f2f" stroke="#2f2f2f" stroke-width="0.15">0.31</text>
<text x="417.38" y="455.78" textLength="50.23" lengthAdjust="spacingAndGlyphs" fill="#2f2f2f" stroke="#2f2f2f" stroke-width="0.15">[0.23; 0.39]</text>
<text x="485.39" y="455.78" textLength="21.55" lengthAdjust="spacingAndGlyphs" fill="#2f2f2f" stroke="#2f2f2f" stroke-width="0.15">8.9%</text>
<line x1="238.55" y1="452.55" x2="270.94" y2="452.55" stroke="#5e5e5e" stroke-width="1.3" />
<rect x="249.39" y="448.08" width="8.95" height="8.95" fill="#27a3da" stroke="#1e8cc2" stroke-width="0.5"/>
<line x1="249.39" y1="452.55" x2="258.34" y2="452.55" stroke="#0f4468" stroke-width="1.0" stroke-opacity="0.8"/>
<rect x="253.06" y="451.45" width="1.6" height="2.2" fill="#0d3560"/>
<text x="25.88" y="466.76" textLength="79.54" lengthAdjust="spacingAndGlyphs" fill="#2f2f2f" stroke="#2f2f2f" stroke-width="0.15">Thieblemont et al.</text>
<text x="186.94" y="466.76" textLength="10.36" lengthAdjust="spacingAndGlyphs" fill="#2f2f2f" stroke="#2f2f2f" stroke-width="0.15">40</text>
<text x="213.64" y="466.76" textLength="10.36" lengthAdjust="spacingAndGlyphs" fill="#2f2f2f" stroke="#2f2f2f" stroke-width="0.15">96</text>
<text x="393.61" y="466.76" textLength="19.50" lengthAdjust="spacingAndGlyphs" fill="#2f2f2f" stroke="#2f2f2f" stroke-width="0.15">0.42</text>
<text x="417.38" y="466.76" textLength="50.23" lengthAdjust="spacingAndGlyphs" fill="#2f2f2f" stroke="#2f2f2f" stroke-width="0.15">[0.32; 0.52]</text>
<text x="485.31" y="466.76" textLength="21.62" lengthAdjust="spacingAndGlyphs" fill="#2f2f2f" stroke="#2f2f2f" stroke-width="0.15">7.9%</text>
<line x1="255.66" y1="463.70" x2="295.93" y2="463.70" stroke="#5e5e5e" stroke-width="1.3" />
<rect x="271.06" y="459.48" width="8.43" height="8.43" fill="#27a3da" stroke="#1e8cc2" stroke-width="0.5"/>
<line x1="271.06" y1="463.70" x2="279.49" y2="463.70" stroke="#0f4468" stroke-width="1.0" stroke-opacity="0.8"/>
<rect x="274.47" y="462.60" width="1.6" height="2.2" fill="#0d3560"/>
<text x="25.29" y="477.74" textLength="66.71" lengthAdjust="spacingAndGlyphs" fill="#2f2f2f" stroke="#2f2f2f" stroke-width="0.15">Dickinson et al.</text>
<text x="186.94" y="477.74" textLength="10.36" lengthAdjust="spacingAndGlyphs" fill="#2f2f2f" stroke="#2f2f2f" stroke-width="0.15">43</text>
<text x="208.46" y="477.74" textLength="15.54" lengthAdjust="spacingAndGlyphs" fill="#2f2f2f" stroke="#2f2f2f" stroke-width="0.15">103</text>
<text x="393.61" y="477.74" textLength="19.50" lengthAdjust="spacingAndGlyphs" fill="#2f2f2f" stroke="#2f2f2f" stroke-width="0.15">0.42</text>
<text x="417.38" y="477.74" textLength="50.23" lengthAdjust="spacingAndGlyphs" fill="#2f2f2f" stroke="#2f2f2f" stroke-width="0.15">[0.32; 0.52]</text>
<text x="485.39" y="477.74" textLength="21.55" lengthAdjust="spacingAndGlyphs" fill="#2f2f2f" stroke="#2f2f2f" stroke-width="0.15">8.1%</text>
<line x1="256.49" y1="474.85" x2="295.34" y2="474.85" stroke="#5e5e5e" stroke-width="1.3" />
<rect x="271.16" y="470.58" width="8.54" height="8.54" fill="#27a3da" stroke="#1e8cc2" stroke-width="0.5"/>
<line x1="271.16" y1="474.85" x2="279.70" y2="474.85" stroke="#0f4468" stroke-width="1.0" stroke-opacity="0.8"/>
<rect x="274.63" y="473.75" width="1.6" height="2.2" fill="#0d3560"/>
<text x="25.21" y="488.72" textLength="49.37" lengthAdjust="spacingAndGlyphs" fill="#2f2f2f" stroke="#2f2f2f" stroke-width="0.15">Izutsu et al.</text>
<text x="186.94" y="488.72" textLength="10.36" lengthAdjust="spacingAndGlyphs" fill="#2f2f2f" stroke="#2f2f2f" stroke-width="0.15">16</text>
<text x="213.64" y="488.72" textLength="10.36" lengthAdjust="spacingAndGlyphs" fill="#2f2f2f" stroke="#2f2f2f" stroke-width="0.15">36</text>
<text x="393.61" y="488.72" textLength="19.28" lengthAdjust="spacingAndGlyphs" fill="#2f2f2f" stroke="#2f2f2f" stroke-width="0.15">0.44</text>
<text x="417.38" y="488.72" textLength="50.23" lengthAdjust="spacingAndGlyphs" fill="#2f2f2f" stroke="#2f2f2f" stroke-width="0.15">[0.28; 0.62]</text>
<text x="485.42" y="488.72" textLength="21.51" lengthAdjust="spacingAndGlyphs" fill="#2f2f2f" stroke="#2f2f2f" stroke-width="0.15">5.3%</text>
<line x1="248.29" y1="486.00" x2="315.04" y2="486.00" stroke="#5e5e5e" stroke-width="1.3" />
<rect x="277.28" y="482.55" width="6.91" height="6.91" fill="#27a3da" stroke="#1e8cc2" stroke-width="0.5"/>
<line x1="277.28" y1="486.00" x2="284.19" y2="486.00" stroke="#0f4468" stroke-width="1.0" stroke-opacity="0.8"/>
<rect x="279.93" y="484.90" width="1.6" height="2.2" fill="#0d3560"/>
<text x="25.65" y="499.70" textLength="47.46" lengthAdjust="spacingAndGlyphs" fill="#2f2f2f" stroke="#2f2f2f" stroke-width="0.15">Song et al.</text>
<text x="186.94" y="499.70" textLength="10.36" lengthAdjust="spacingAndGlyphs" fill="#2f2f2f" stroke="#2f2f2f" stroke-width="0.15">10</text>
<text x="213.64" y="499.70" textLength="10.36" lengthAdjust="spacingAndGlyphs" fill="#2f2f2f" stroke="#2f2f2f" stroke-width="0.15">21</text>
<text x="393.61" y="499.70" textLength="19.42" lengthAdjust="spacingAndGlyphs" fill="#2f2f2f" stroke="#2f2f2f" stroke-width="0.15">0.48</text>
<text x="417.38" y="499.70" textLength="50.23" lengthAdjust="spacingAndGlyphs" fill="#2f2f2f" stroke="#2f2f2f" stroke-width="0.15">[0.26; 0.70]</text>
<text x="485.44" y="499.70" textLength="21.50" lengthAdjust="spacingAndGlyphs" fill="#2f2f2f" stroke="#2f2f2f" stroke-width="0.15">3.8%</text>
<line x1="243.93" y1="497.15" x2="331.38" y2="497.15" stroke="#5e5e5e" stroke-width="1.3" />
<rect x="284.05" y="494.23" width="5.85" height="5.85" fill="#27a3da" stroke="#1e8cc2" stroke-width="0.5"/>
<line x1="284.05" y1="497.15" x2="289.90" y2="497.15" stroke="#0f4468" stroke-width="1.0" stroke-opacity="0.8"/>
<rect x="286.17" y="496.05" width="1.6" height="2.2" fill="#0d3560"/>
<text x="25.66" y="511.30" style="font-weight:bold;font-size:9.6px;" fill="#141414" stroke="#141414" stroke-width="0.35">Random effects model</text>
<text x="206.55" y="511.30" textLength="16.76" lengthAdjust="spacingAndGlyphs" style="font-weight:bold;font-size:9.6px;" fill="#141414" stroke="#141414" stroke-width="0.35">448</text>
<text x="393.60" y="511.30" textLength="19.85" lengthAdjust="spacingAndGlyphs" style="font-weight:bold;font-size:9.6px;" fill="#141414" stroke="#141414" stroke-width="0.35">0.37</text>
<text x="416.53" y="511.30" textLength="52.03" lengthAdjust="spacingAndGlyphs" style="font-weight:bold;font-size:9.6px;" fill="#141414" stroke="#141414" stroke-width="0.35">[0.32; 0.43]</text>
<text x="477.55" y="511.30" textLength="28.11" lengthAdjust="spacingAndGlyphs" style="font-weight:bold;font-size:9.6px;" fill="#141414" stroke="#141414" stroke-width="0.35">41.2%</text>
<polygon points="256.28,508.50 266.10,505.70 277.89,508.50 266.10,511.30" fill="#f1bb0c" stroke="#2e2400" stroke-width="0.8"/>
<text x="25.17" y="523.60" textLength="66.06" lengthAdjust="spacingAndGlyphs" fill="#2f2f2f" stroke="#2f2f2f" stroke-width="0.15">Heterogeneity:</text>
<text x="93.62" y="523.60" style="font-style:italic;" fill="#2f2f2f" stroke="#2f2f2f" stroke-width="0.15">I</text>
<text x="96.75" y="519.30" style="font-size:6.9px;" fill="#2f2f2f" stroke="#2f2f2f" stroke-width="0.15">2</text>
<text x="103.56" y="523.60" textLength="6.49" lengthAdjust="spacingAndGlyphs" fill="#2f2f2f" stroke="#2f2f2f" stroke-width="0.15">=</text>
<text x="112.33" y="523.60" fill="#2f2f2f" stroke="#2f2f2f" stroke-width="0.15">36%,</text>
<text x="136.75" y="523.60" textLength="4.62" lengthAdjust="spacingAndGlyphs" style="font-style:italic;" fill="#2f2f2f" stroke="#2f2f2f" stroke-width="0.15">τ</text>
<text x="141.15" y="519.30" style="font-size:6.9px;" fill="#2f2f2f" stroke="#2f2f2f" stroke-width="0.15">2</text>
<text x="148.28" y="523.60" textLength="6.25" lengthAdjust="spacingAndGlyphs" fill="#2f2f2f" stroke="#2f2f2f" stroke-width="0.15">=</text>
<text x="157.01" y="523.60" textLength="32.97" lengthAdjust="spacingAndGlyphs" fill="#2f2f2f" stroke="#2f2f2f" stroke-width="0.15">0.0020,</text>
<text x="192.80" y="523.60" style="font-style:italic;" fill="#2f2f2f" stroke="#2f2f2f" stroke-width="0.15">P</text>
<text x="200.84" y="523.60" textLength="6.73" lengthAdjust="spacingAndGlyphs" fill="#2f2f2f" stroke="#2f2f2f" stroke-width="0.15">=</text>
<text x="209.87" y="523.60" textLength="14.18" lengthAdjust="spacingAndGlyphs" fill="#2f2f2f" stroke="#2f2f2f" stroke-width="0.15">.16</text>
<text x="25.83" y="543.70" textLength="28.17" lengthAdjust="spacingAndGlyphs" style="font-weight:bold;font-size:9.6px;" fill="#141414" stroke="#141414" stroke-width="0.35">CAR-T</text>
<text x="25.66" y="556.70" fill="#2f2f2f" stroke="#2f2f2f" stroke-width="0.15">Schuster et al.</text>
<text x="186.94" y="556.70" textLength="10.36" lengthAdjust="spacingAndGlyphs" fill="#2f2f2f" stroke="#2f2f2f" stroke-width="0.15">45</text>
<text x="208.46" y="556.70" textLength="15.54" lengthAdjust="spacingAndGlyphs" fill="#2f2f2f" stroke="#2f2f2f" stroke-width="0.15">115</text>
<text x="393.61" y="556.70" textLength="19.46" lengthAdjust="spacingAndGlyphs" fill="#2f2f2f" stroke="#2f2f2f" stroke-width="0.15">0.39</text>
<text x="417.38" y="556.70" textLength="50.23" lengthAdjust="spacingAndGlyphs" fill="#2f2f2f" stroke="#2f2f2f" stroke-width="0.15">[0.30; 0.49]</text>
<text x="485.39" y="556.70" textLength="21.55" lengthAdjust="spacingAndGlyphs" fill="#2f2f2f" stroke="#2f2f2f" stroke-width="0.15">8.4%</text>
<line x1="252.67" y1="553.30" x2="289.04" y2="553.30" stroke="#5e5e5e" stroke-width="1.3" />
<rect x="265.94" y="548.95" width="8.69" height="8.69" fill="#27a3da" stroke="#1e8cc2" stroke-width="0.5"/>
<line x1="265.94" y1="553.30" x2="274.64" y2="553.30" stroke="#0f4468" stroke-width="1.0" stroke-opacity="0.8"/>
<rect x="269.49" y="552.20" width="1.6" height="2.2" fill="#0d3560"/>
<text x="25.66" y="567.82" fill="#2f2f2f" stroke="#2f2f2f" stroke-width="0.15">Schuster et al.</text>
<text x="192.12" y="567.82" textLength="5.18" lengthAdjust="spacingAndGlyphs" fill="#2f2f2f" stroke="#2f2f2f" stroke-width="0.15">6</text>
<text x="213.64" y="567.82" textLength="10.36" lengthAdjust="spacingAndGlyphs" fill="#2f2f2f" stroke="#2f2f2f" stroke-width="0.15">14</text>
<text x="393.61" y="567.82" textLength="19.43" lengthAdjust="spacingAndGlyphs" fill="#2f2f2f" stroke="#2f2f2f" stroke-width="0.15">0.43</text>
<text x="417.38" y="567.82" textLength="50.23" lengthAdjust="spacingAndGlyphs" fill="#2f2f2f" stroke="#2f2f2f" stroke-width="0.15">[0.18; 0.71]</text>
<text x="485.32" y="567.82" textLength="21.61" lengthAdjust="spacingAndGlyphs" fill="#2f2f2f" stroke="#2f2f2f" stroke-width="0.15">2.9%</text>
<line x1="228.10" y1="564.43" x2="333.19" y2="564.43" stroke="#5e5e5e" stroke-width="1.3" />
<rect x="275.06" y="561.88" width="5.11" height="5.11" fill="#27a3da" stroke="#1e8cc2" stroke-width="0.5"/>
<line x1="275.06" y1="564.43" x2="280.17" y2="564.43" stroke="#0f4468" stroke-width="1.0" stroke-opacity="0.8"/>
<rect x="276.81" y="563.33" width="1.6" height="2.2" fill="#0d3560"/>
<text x="25.95" y="578.94" textLength="65.75" lengthAdjust="spacingAndGlyphs" fill="#2f2f2f" stroke="#2f2f2f" stroke-width="0.15">Jacobson et al.</text>
<text x="186.94" y="578.94" textLength="10.36" lengthAdjust="spacingAndGlyphs" fill="#2f2f2f" stroke="#2f2f2f" stroke-width="0.15">12</text>
<text x="213.64" y="578.94" textLength="10.36" lengthAdjust="spacingAndGlyphs" fill="#2f2f2f" stroke="#2f2f2f" stroke-width="0.15">25</text>
<text x="393.61" y="578.94" textLength="19.42" lengthAdjust="spacingAndGlyphs" fill="#2f2f2f" stroke="#2f2f2f" stroke-width="0.15">0.48</text>
<text x="417.38" y="578.94" textLength="50.23" lengthAdjust="spacingAndGlyphs" fill="#2f2f2f" stroke="#2f2f2f" stroke-width="0.15">[0.28; 0.69]</text>
<text x="485.59" y="578.94" textLength="21.35" lengthAdjust="spacingAndGlyphs" fill="#2f2f2f" stroke="#2f2f2f" stroke-width="0.15">4.2%</text>
<line x1="248.02" y1="575.56" x2="328.38" y2="575.56" stroke="#5e5e5e" stroke-width="1.3" />
<rect x="284.65" y="572.49" width="6.15" height="6.15" fill="#27a3da" stroke="#1e8cc2" stroke-width="0.5"/>
<line x1="284.65" y1="575.56" x2="290.79" y2="575.56" stroke="#0f4468" stroke-width="1.0" stroke-opacity="0.8"/>
<rect x="286.92" y="574.46" width="1.6" height="2.2" fill="#0d3560"/>
<text x="25.89" y="590.06" textLength="41.87" lengthAdjust="spacingAndGlyphs" fill="#2f2f2f" stroke="#2f2f2f" stroke-width="0.15">Ying et al.</text>
<text x="186.94" y="590.06" textLength="10.36" lengthAdjust="spacingAndGlyphs" fill="#2f2f2f" stroke="#2f2f2f" stroke-width="0.15">30</text>
<text x="213.64" y="590.06" textLength="10.36" lengthAdjust="spacingAndGlyphs" fill="#2f2f2f" stroke="#2f2f2f" stroke-width="0.15">58</text>
<text x="393.61" y="590.06" textLength="19.50" lengthAdjust="spacingAndGlyphs" fill="#2f2f2f" stroke="#2f2f2f" stroke-width="0.15">0.52</text>
<text x="417.38" y="590.06" textLength="50.23" lengthAdjust="spacingAndGlyphs" fill="#2f2f2f" stroke="#2f2f2f" stroke-width="0.15">[0.38; 0.65]</text>
<text x="485.32" y="590.06" textLength="21.62" lengthAdjust="spacingAndGlyphs" fill="#2f2f2f" stroke="#2f2f2f" stroke-width="0.15">6.6%</text>
<line x1="268.50" y1="586.69" x2="321.22" y2="586.69" stroke="#5e5e5e" stroke-width="1.3" />
<rect x="291.18" y="582.84" width="7.71" height="7.71" fill="#27a3da" stroke="#1e8cc2" stroke-width="0.5"/>
<line x1="291.18" y1="586.69" x2="298.89" y2="586.69" stroke="#0f4468" stroke-width="1.0" stroke-opacity="0.8"/>
<rect x="294.24" y="585.59" width="1.6" height="2.2" fill="#0d3560"/>
<text x="26.08" y="601.18" textLength="68.31" lengthAdjust="spacingAndGlyphs" fill="#2f2f2f" stroke="#2f2f2f" stroke-width="0.15">Abramson et al.</text>
<text x="181.76" y="601.18" textLength="15.54" lengthAdjust="spacingAndGlyphs" fill="#2f2f2f" stroke="#2f2f2f" stroke-width="0.15">136</text>
<text x="208.46" y="601.18" textLength="15.54" lengthAdjust="spacingAndGlyphs" fill="#2f2f2f" stroke="#2f2f2f" stroke-width="0.15">256</text>
<text x="393.61" y="601.18" textLength="19.43" lengthAdjust="spacingAndGlyphs" fill="#2f2f2f" stroke="#2f2f2f" stroke-width="0.15">0.53</text>
<text x="417.38" y="601.18" textLength="50.23" lengthAdjust="spacingAndGlyphs" fill="#2f2f2f" stroke="#2f2f2f" stroke-width="0.15">[0.47; 0.59]</text>
<text x="485.36" y="601.18" textLength="21.58" lengthAdjust="spacingAndGlyphs" fill="#2f2f2f" stroke="#2f2f2f" stroke-width="0.15">9.7%</text>
<line x1="285.38" y1="597.82" x2="310.05" y2="597.82" stroke="#5e5e5e" stroke-width="1.3" />
<rect x="293.12" y="593.15" width="9.34" height="9.34" fill="#27a3da" stroke="#1e8cc2" stroke-width="0.5"/>
<line x1="293.12" y1="597.82" x2="302.46" y2="597.82" stroke="#0f4468" stroke-width="1.0" stroke-opacity="0.8"/>
<rect x="296.99" y="596.72" width="1.6" height="2.2" fill="#0d3560"/>
<text x="25.28" y="612.30" textLength="45.14" lengthAdjust="spacingAndGlyphs" fill="#2f2f2f" stroke="#2f2f2f" stroke-width="0.15">Kato et al.</text>
<text x="192.12" y="612.30" textLength="5.18" lengthAdjust="spacingAndGlyphs" fill="#2f2f2f" stroke="#2f2f2f" stroke-width="0.15">8</text>
<text x="213.64" y="612.30" textLength="10.36" lengthAdjust="spacingAndGlyphs" fill="#2f2f2f" stroke="#2f2f2f" stroke-width="0.15">15</text>
<text x="393.61" y="612.30" textLength="19.43" lengthAdjust="spacingAndGlyphs" fill="#2f2f2f" stroke="#2f2f2f" stroke-width="0.15">0.53</text>
<text x="417.38" y="612.30" textLength="50.23" lengthAdjust="spacingAndGlyphs" fill="#2f2f2f" stroke="#2f2f2f" stroke-width="0.15">[0.27; 0.79]</text>
<text x="485.44" y="612.30" textLength="21.50" lengthAdjust="spacingAndGlyphs" fill="#2f2f2f" stroke="#2f2f2f" stroke-width="0.15">3.0%</text>
<line x1="245.64" y1="608.95" x2="348.11" y2="608.95" stroke="#5e5e5e" stroke-width="1.3" />
<rect x="295.60" y="606.35" width="5.20" height="5.20" fill="#27a3da" stroke="#1e8cc2" stroke-width="0.5"/>
<line x1="295.60" y1="608.95" x2="300.80" y2="608.95" stroke="#0f4468" stroke-width="1.0" stroke-opacity="0.8"/>
<rect x="297.40" y="607.85" width="1.6" height="2.2" fill="#0d3560"/>
<text x="25.60" y="623.42" textLength="58.42" lengthAdjust="spacingAndGlyphs" fill="#2f2f2f" stroke="#2f2f2f" stroke-width="0.15">Godwin et al.</text>
<text x="186.94" y="623.42" textLength="10.36" lengthAdjust="spacingAndGlyphs" fill="#2f2f2f" stroke="#2f2f2f" stroke-width="0.15">44</text>
<text x="213.64" y="623.42" textLength="10.36" lengthAdjust="spacingAndGlyphs" fill="#2f2f2f" stroke="#2f2f2f" stroke-width="0.15">82</text>
<text x="393.61" y="623.42" textLength="19.28" lengthAdjust="spacingAndGlyphs" fill="#2f2f2f" stroke="#2f2f2f" stroke-width="0.15">0.54</text>
<text x="417.38" y="623.42" textLength="50.23" lengthAdjust="spacingAndGlyphs" fill="#2f2f2f" stroke="#2f2f2f" stroke-width="0.15">[0.42; 0.65]</text>
<text x="485.31" y="623.42" textLength="21.62" lengthAdjust="spacingAndGlyphs" fill="#2f2f2f" stroke="#2f2f2f" stroke-width="0.15">7.5%</text>
<line x1="276.52" y1="620.08" x2="320.63" y2="620.08" stroke="#5e5e5e" stroke-width="1.3" />
<rect x="294.73" y="615.97" width="8.22" height="8.22" fill="#27a3da" stroke="#1e8cc2" stroke-width="0.5"/>
<line x1="294.73" y1="620.08" x2="302.95" y2="620.08" stroke="#0f4468" stroke-width="1.0" stroke-opacity="0.8"/>
<rect x="298.04" y="618.98" width="1.6" height="2.2" fill="#0d3560"/>
<text x="25.28" y="634.54" textLength="61.43" lengthAdjust="spacingAndGlyphs" fill="#2f2f2f" stroke="#2f2f2f" stroke-width="0.15">Neelapu et al.</text>
<text x="186.94" y="634.54" textLength="10.36" lengthAdjust="spacingAndGlyphs" fill="#2f2f2f" stroke="#2f2f2f" stroke-width="0.15">55</text>
<text x="208.46" y="634.54" textLength="15.54" lengthAdjust="spacingAndGlyphs" fill="#2f2f2f" stroke="#2f2f2f" stroke-width="0.15">101</text>
<text x="393.61" y="634.54" textLength="19.28" lengthAdjust="spacingAndGlyphs" fill="#2f2f2f" stroke="#2f2f2f" stroke-width="0.15">0.54</text>
<text x="417.38" y="634.54" textLength="50.23" lengthAdjust="spacingAndGlyphs" fill="#2f2f2f" stroke="#2f2f2f" stroke-width="0.15">[0.44; 0.64]</text>
<text x="485.39" y="634.54" textLength="21.55" lengthAdjust="spacingAndGlyphs" fill="#2f2f2f" stroke="#2f2f2f" stroke-width="0.15">8.0%</text>
<line x1="280.34" y1="631.21" x2="319.95" y2="631.21" stroke="#5e5e5e" stroke-width="1.3" />
<rect x="296.16" y="626.97" width="8.49" height="8.49" fill="#27a3da" stroke="#1e8cc2" stroke-width="0.5"/>
<line x1="296.16" y1="631.21" x2="304.65" y2="631.21" stroke="#0f4468" stroke-width="1.0" stroke-opacity="0.8"/>
<rect x="299.60" y="630.11" width="1.6" height="2.2" fill="#0d3560"/>
<text x="25.31" y="645.66" fill="#2f2f2f" stroke="#2f2f2f" stroke-width="0.15">Park et al.</text>
<text x="186.94" y="645.66" textLength="10.36" lengthAdjust="spacingAndGlyphs" fill="#2f2f2f" stroke="#2f2f2f" stroke-width="0.15">16</text>
<text x="213.64" y="645.66" textLength="10.36" lengthAdjust="spacingAndGlyphs" fill="#2f2f2f" stroke="#2f2f2f" stroke-width="0.15">27</text>
<text x="393.61" y="645.66" textLength="19.46" lengthAdjust="spacingAndGlyphs" fill="#2f2f2f" stroke="#2f2f2f" stroke-width="0.15">0.59</text>
<text x="417.38" y="645.66" textLength="50.23" lengthAdjust="spacingAndGlyphs" fill="#2f2f2f" stroke="#2f2f2f" stroke-width="0.15">[0.39; 0.78]</text>
<text x="485.59" y="645.66" textLength="21.35" lengthAdjust="spacingAndGlyphs" fill="#2f2f2f" stroke="#2f2f2f" stroke-width="0.15">4.5%</text>
<line x1="269.64" y1="642.34" x2="345.90" y2="642.34" stroke="#5e5e5e" stroke-width="1.3" />
<rect x="306.66" y="639.16" width="6.36" height="6.36" fill="#27a3da" stroke="#1e8cc2" stroke-width="0.5"/>
<line x1="306.66" y1="642.34" x2="313.03" y2="642.34" stroke="#0f4468" stroke-width="1.0" stroke-opacity="0.8"/>
<rect x="309.04" y="641.24" width="1.6" height="2.2" fill="#0d3560"/>
<text x="25.66" y="656.78" textLength="46.74" lengthAdjust="spacingAndGlyphs" fill="#2f2f2f" stroke="#2f2f2f" stroke-width="0.15">Strati et al.</text>
<text x="186.94" y="656.78" textLength="10.36" lengthAdjust="spacingAndGlyphs" fill="#2f2f2f" stroke="#2f2f2f" stroke-width="0.15">13</text>
<text x="213.64" y="656.78" textLength="10.36" lengthAdjust="spacingAndGlyphs" fill="#2f2f2f" stroke="#2f2f2f" stroke-width="0.15">20</text>
<text x="393.61" y="656.78" textLength="19.41" lengthAdjust="spacingAndGlyphs" fill="#2f2f2f" stroke="#2f2f2f" stroke-width="0.15">0.65</text>
<text x="417.38" y="656.78" textLength="50.23" lengthAdjust="spacingAndGlyphs" fill="#2f2f2f" stroke="#2f2f2f" stroke-width="0.15">[0.41; 0.85]</text>
<text x="485.44" y="656.78" textLength="21.50" lengthAdjust="spacingAndGlyphs" fill="#2f2f2f" stroke="#2f2f2f" stroke-width="0.15">3.9%</text>
<line x1="273.53" y1="653.47" x2="359.66" y2="653.47" stroke="#5e5e5e" stroke-width="1.3" />
<rect x="318.16" y="650.51" width="5.92" height="5.92" fill="#27a3da" stroke="#1e8cc2" stroke-width="0.5"/>
<line x1="318.16" y1="653.47" x2="324.09" y2="653.47" stroke="#0f4468" stroke-width="1.0" stroke-opacity="0.8"/>
<rect x="320.32" y="652.37" width="1.6" height="2.2" fill="#0d3560"/>
<text x="25.66" y="667.50" style="font-weight:bold;font-size:9.6px;" fill="#141414" stroke="#141414" stroke-width="0.35">Random effects model</text>
<text x="206.26" y="667.50" textLength="17.11" lengthAdjust="spacingAndGlyphs" style="font-weight:bold;font-size:9.6px;" fill="#141414" stroke="#141414" stroke-width="0.35">713</text>
<text x="393.60" y="667.50" textLength="19.68" lengthAdjust="spacingAndGlyphs" style="font-weight:bold;font-size:9.6px;" fill="#141414" stroke="#141414" stroke-width="0.35">0.51</text>
<text x="416.53" y="667.50" textLength="52.03" lengthAdjust="spacingAndGlyphs" style="font-weight:bold;font-size:9.6px;" fill="#141414" stroke="#141414" stroke-width="0.35">[0.46; 0.56]</text>
<text x="477.39" y="667.50" textLength="28.68" lengthAdjust="spacingAndGlyphs" style="font-weight:bold;font-size:9.6px;" fill="#141414" stroke="#141414" stroke-width="0.35">58.8%</text>
<polygon points="283.79,664.50 293.62,661.70 303.44,664.50 293.62,667.30" fill="#f1bb0c" stroke="#2e2400" stroke-width="0.8"/>
<text x="25.17" y="679.30" textLength="66.06" lengthAdjust="spacingAndGlyphs" fill="#2f2f2f" stroke="#2f2f2f" stroke-width="0.15">Heterogeneity:</text>
<text x="93.62" y="679.30" style="font-style:italic;" fill="#2f2f2f" stroke="#2f2f2f" stroke-width="0.15">I</text>
<text x="96.75" y="675.00" style="font-size:6.9px;" fill="#2f2f2f" stroke="#2f2f2f" stroke-width="0.15">2</text>
<text x="103.56" y="679.30" textLength="6.49" lengthAdjust="spacingAndGlyphs" fill="#2f2f2f" stroke="#2f2f2f" stroke-width="0.15">=</text>
<text x="111.95" y="679.30" textLength="22.43" lengthAdjust="spacingAndGlyphs" fill="#2f2f2f" stroke="#2f2f2f" stroke-width="0.15">18%,</text>
<text x="136.75" y="679.30" textLength="4.62" lengthAdjust="spacingAndGlyphs" style="font-style:italic;" fill="#2f2f2f" stroke="#2f2f2f" stroke-width="0.15">τ</text>
<text x="141.15" y="675.00" style="font-size:6.9px;" fill="#2f2f2f" stroke="#2f2f2f" stroke-width="0.15">2</text>
<text x="148.28" y="679.30" textLength="6.25" lengthAdjust="spacingAndGlyphs" fill="#2f2f2f" stroke="#2f2f2f" stroke-width="0.15">=</text>
<text x="157.01" y="679.30" textLength="32.97" lengthAdjust="spacingAndGlyphs" fill="#2f2f2f" stroke="#2f2f2f" stroke-width="0.15">0.0016,</text>
<text x="192.80" y="679.30" style="font-style:italic;" fill="#2f2f2f" stroke="#2f2f2f" stroke-width="0.15">P</text>
<text x="200.84" y="679.30" textLength="6.73" lengthAdjust="spacingAndGlyphs" fill="#2f2f2f" stroke="#2f2f2f" stroke-width="0.15">=</text>
<text x="209.87" y="679.30" textLength="14.17" lengthAdjust="spacingAndGlyphs" fill="#2f2f2f" stroke="#2f2f2f" stroke-width="0.15">.28</text>
<text x="25.66" y="700.80" style="font-weight:bold;font-size:9.6px;" fill="#141414" stroke="#141414" stroke-width="0.35">Random effects model</text>
<text x="200.56" y="700.80" textLength="22.62" lengthAdjust="spacingAndGlyphs" style="font-weight:bold;font-size:9.6px;" fill="#141414" stroke="#141414" stroke-width="0.35">1161</text>
<text x="393.60" y="700.80" textLength="19.87" lengthAdjust="spacingAndGlyphs" style="font-weight:bold;font-size:9.6px;" fill="#141414" stroke="#141414" stroke-width="0.35">0.46</text>
<text x="416.54" y="700.80" textLength="51.62" lengthAdjust="spacingAndGlyphs" style="font-weight:bold;font-size:9.6px;" fill="#141414" stroke="#141414" stroke-width="0.35">[0.41; 0.51]</text>
<text x="471.45" y="700.80" textLength="34.82" lengthAdjust="spacingAndGlyphs" style="font-weight:bold;font-size:9.6px;" fill="#141414" stroke="#141414" stroke-width="0.35">100.0%</text>
<polygon points="273.96,697.90 283.79,695.10 293.62,697.90 283.79,700.70" fill="#f1bb0c" stroke="#2e2400" stroke-width="0.8"/>
<text x="25.17" y="712.90" textLength="66.06" lengthAdjust="spacingAndGlyphs" fill="#2f2f2f" stroke="#2f2f2f" stroke-width="0.15">Heterogeneity:</text>
<text x="93.62" y="712.90" style="font-style:italic;" fill="#2f2f2f" stroke="#2f2f2f" stroke-width="0.15">I</text>
<text x="96.75" y="708.60" style="font-size:6.9px;" fill="#2f2f2f" stroke="#2f2f2f" stroke-width="0.15">2</text>
<text x="103.56" y="712.90" textLength="6.49" lengthAdjust="spacingAndGlyphs" fill="#2f2f2f" stroke="#2f2f2f" stroke-width="0.15">=</text>
<text x="112.21" y="712.90" fill="#2f2f2f" stroke="#2f2f2f" stroke-width="0.15">65%,</text>
<text x="136.75" y="712.90" textLength="4.62" lengthAdjust="spacingAndGlyphs" style="font-style:italic;" fill="#2f2f2f" stroke="#2f2f2f" stroke-width="0.15">τ</text>
<text x="141.15" y="708.60" style="font-size:6.9px;" fill="#2f2f2f" stroke="#2f2f2f" stroke-width="0.15">2</text>
<text x="148.28" y="712.90" textLength="6.25" lengthAdjust="spacingAndGlyphs" fill="#2f2f2f" stroke="#2f2f2f" stroke-width="0.15">=</text>
<text x="157.01" y="712.90" textLength="27.58" lengthAdjust="spacingAndGlyphs" fill="#2f2f2f" stroke="#2f2f2f" stroke-width="0.15">0.006,</text>
<text x="187.40" y="712.90" style="font-style:italic;" fill="#2f2f2f" stroke="#2f2f2f" stroke-width="0.15">P</text>
<text x="195.31" y="712.90" textLength="5.77" lengthAdjust="spacingAndGlyphs" fill="#2f2f2f" stroke="#2f2f2f" stroke-width="0.15">&lt;</text>
<text x="202.58" y="712.90" textLength="12.46" lengthAdjust="spacingAndGlyphs" fill="#2f2f2f" stroke="#2f2f2f" stroke-width="0.15">.01</text>
<line x1="229.40" y1="703.75" x2="354.30" y2="703.75" stroke="#222" stroke-width="1.5" />
<line x1="232.70" y1="703.75" x2="232.70" y2="707.05" stroke="#222" stroke-width="1.0" />
<text x="225.92" y="719.20" textLength="13.47" lengthAdjust="spacingAndGlyphs" style="font-size:9.3px;" fill="#222" stroke="#222" stroke-width="0.15">0.2</text>
<line x1="252.35" y1="703.75" x2="252.35" y2="707.05" stroke="#222" stroke-width="1.0" />
<text x="245.57" y="719.20" textLength="13.40" lengthAdjust="spacingAndGlyphs" style="font-size:9.3px;" fill="#222" stroke="#222" stroke-width="0.15">0.3</text>
<line x1="272.00" y1="703.75" x2="272.00" y2="707.05" stroke="#222" stroke-width="1.0" />
<text x="265.23" y="719.20" textLength="13.25" lengthAdjust="spacingAndGlyphs" style="font-size:9.3px;" fill="#222" stroke="#222" stroke-width="0.15">0.4</text>
<line x1="291.65" y1="703.75" x2="291.65" y2="707.05" stroke="#222" stroke-width="1.0" />
<text x="284.87" y="719.20" textLength="13.38" lengthAdjust="spacingAndGlyphs" style="font-size:9.3px;" fill="#222" stroke="#222" stroke-width="0.15">0.5</text>
<line x1="311.30" y1="703.75" x2="311.30" y2="707.05" stroke="#222" stroke-width="1.0" />
<text x="304.52" y="719.20" textLength="13.40" lengthAdjust="spacingAndGlyphs" style="font-size:9.3px;" fill="#222" stroke="#222" stroke-width="0.15">0.6</text>
<line x1="330.95" y1="703.75" x2="330.95" y2="707.05" stroke="#222" stroke-width="1.0" />
<text x="324.17" y="719.20" textLength="13.47" lengthAdjust="spacingAndGlyphs" style="font-size:9.3px;" fill="#222" stroke="#222" stroke-width="0.15">0.7</text>
<line x1="350.60" y1="703.75" x2="350.60" y2="707.05" stroke="#222" stroke-width="1.0" />
<text x="343.82" y="719.20" textLength="13.40" lengthAdjust="spacingAndGlyphs" style="font-size:9.3px;" fill="#222" stroke="#222" stroke-width="0.15">0.8</text>
<text x="25.58" y="736.40" textLength="130.52" lengthAdjust="spacingAndGlyphs" fill="#2f2f2f" stroke="#2f2f2f" stroke-width="0.15">Test for subgroup differences:</text>
<text x="159.56" y="736.40" textLength="4.23" lengthAdjust="spacingAndGlyphs" style="font-style:italic;" fill="#2f2f2f" stroke="#2f2f2f" stroke-width="0.15">χ</text>
<text x="164.15" y="732.30" style="font-size:6.9px;" fill="#2f2f2f" stroke="#2f2f2f" stroke-width="0.15">2</text>
<text x="164.37" y="738.50" style="font-size:6.9px;" fill="#2f2f2f" stroke="#2f2f2f" stroke-width="0.15">1</text>
<text x="169.84" y="736.40" textLength="6.73" lengthAdjust="spacingAndGlyphs" fill="#2f2f2f" stroke="#2f2f2f" stroke-width="0.15">=</text>
<text x="179.46" y="736.40" textLength="27.12" lengthAdjust="spacingAndGlyphs" fill="#2f2f2f" stroke="#2f2f2f" stroke-width="0.15">12.56,</text>
<text x="209.08" y="736.40" textLength="8.41" lengthAdjust="spacingAndGlyphs" fill="#2f2f2f" stroke="#2f2f2f" stroke-width="0.15">df</text>
<text x="220.74" y="736.40" textLength="6.73" lengthAdjust="spacingAndGlyphs" fill="#2f2f2f" stroke="#2f2f2f" stroke-width="0.15">=</text>
<text x="229.86" y="736.40" fill="#2f2f2f" stroke="#2f2f2f" stroke-width="0.15">1</text>
<text x="237.30" y="736.40" fill="#2f2f2f" stroke="#2f2f2f" stroke-width="0.15">(</text>
<text x="241.40" y="736.40" style="font-style:italic;" fill="#2f2f2f" stroke="#2f2f2f" stroke-width="0.15">P</text>
<text x="249.50" y="736.40" textLength="5.89" lengthAdjust="spacingAndGlyphs" fill="#2f2f2f" stroke="#2f2f2f" stroke-width="0.15">&lt;</text>
<text x="257.82" y="736.40" fill="#2f2f2f" stroke="#2f2f2f" stroke-width="0.15">.01</text>
<text x="272.44" y="736.40" fill="#2f2f2f" stroke="#2f2f2f" stroke-width="0.15">)</text>
</g>
<rect x="0.5" y="0.5" width="519" height="749" fill="none" stroke="#444" stroke-width="1"/>
</svg>
</body></html>
